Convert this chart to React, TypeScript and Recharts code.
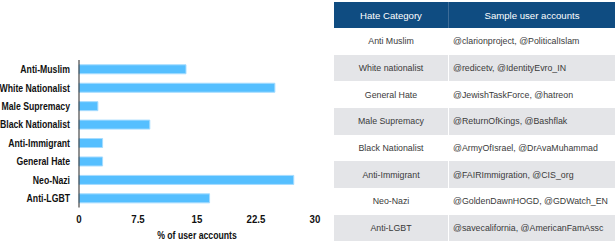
import { Bar, BarChart, Label, XAxis, YAxis } from "recharts";

const categories = [
  "Anti-Muslim",
  "White Nationalist",
  "Male Supremacy",
  "Black Nationalist",
  "Anti-Immigrant",
  "General Hate",
  "Neo-Nazi",
  "Anti-LGBT",
];
const shares = [13.6, 24.9, 2.4, 9.0, 3.0, 3.0, 27.3, 16.6];
const xTicks = [0, 7.5, 15, 22.5, 30];

const tableCategories = [
  "Anti Muslim",
  "White nationalist",
  "General Hate",
  "Male Supremacy",
  "Black Nationalist",
  "Anti-Immigrant",
  "Neo-Nazi",
  "Anti-LGBT",
];
const tableAccounts = [
  "@clarionproject, @PoliticalIslam",
  "@redicetv, @IdentityEvro_IN",
  "@JewishTaskForce, @hatreon",
  "@ReturnOfKings, @Bashflak",
  "@ArmyOfIsrael, @DrAvaMuhammad",
  "@FAIRImmigration, @CIS_org",
  "@GoldenDawnHOGD, @GDWatch_EN",
  "@savecalifornia, @AmericanFamAssc",
];

const data = categories.map((name, i) => ({ name, value: shares[i] }));

const axisFont = {
  fontFamily: "'Liberation Sans', Arial, sans-serif",
  fontWeight: 700,
  fontSize: 11,
  fill: "#111",
};

// no narrow font installed, so squeeze the text horizontally to look condensed
const squeeze = 0.79;

const CategoryTick = ({ x, y, payload }: any) => (
  <text transform={`translate(${x},${y}) scale(${squeeze},1)`} dy="0.355em" textAnchor="end" style={axisFont}>
    {payload.value}
  </text>
);

const ValueTick = ({ x, y, payload }: any) => (
  <text transform={`translate(${x},${y}) scale(0.88,1)`} dy="0.71em" textAnchor="middle" style={axisFont}>
    {payload.value}
  </text>
);

const AxisTitle = ({ viewBox }: any) => {
  const cx = viewBox.x + viewBox.width / 2;
  const by = viewBox.y + viewBox.height - 3;
  return (
    <text transform={`translate(${cx},${by}) scale(${squeeze},1)`} textAnchor="middle" style={axisFont}>
      % of user accounts
    </text>
  );
};

function SampleTable() {
  const cell = {
    fontFamily: "'Liberation Sans', Arial, sans-serif",
    fontSize: 8.8,
    color: "#3a3a3a",
    height: 26.67,
    padding: 0,
    whiteSpace: "nowrap" as const,
  };
  const head = { ...cell, color: "#fff", fontWeight: 400, fontSize: 9.6, height: 26 };
  return (
    <table
      style={{
        position: "absolute",
        left: 334,
        top: 2,
        width: 281,
        borderCollapse: "collapse",
        tableLayout: "fixed",
      }}
    >
      <thead>
        <tr style={{ background: "#0f4c81", height: 26 }}>
          <th style={{ ...head, width: 114, borderRight: "1px solid #3d6c98" }}>Hate Category</th>
          <th style={head}>Sample user accounts</th>
        </tr>
      </thead>
      <tbody>
        {tableCategories.map((cat, i) => (
          <tr key={cat} style={{ background: i % 2 === 1 ? "#e4e5e8" : "#fff" }}>
            <td style={{ ...cell, textAlign: "center", borderRight: "1px solid #fff" }}>{cat}</td>
            <td style={{ ...cell, textAlign: "left", paddingLeft: 4 }}>{tableAccounts[i]}</td>
          </tr>
        ))}
      </tbody>
    </table>
  );
}

export default function App() {
  return (
    <div style={{ position: "absolute", left: 0, top: 0, width: 616, height: 242, background: "#fff" }}>
      <div style={{ position: "absolute", left: 0, top: 0 }}>
        <BarChart
          width={330}
          height={242}
          data={data}
          layout="vertical"
          margin={{ top: 60, right: 15, left: 0, bottom: 0 }}
          barCategoryGap="26%"
        >
          <XAxis
            type="number"
            domain={[0, 30]}
            ticks={xTicks}
            axisLine={false}
            tickLine={false}
            height={34.5}
            tick={<ValueTick />}
          >
            <Label content={<AxisTitle />} position="insideBottom" />
          </XAxis>
          <YAxis
            type="category"
            dataKey="name"
            width={79}
            interval={0}
            axisLine={{ stroke: "#222" }}
            tickLine={false}
            tickMargin={3}
            tick={<CategoryTick />}
          />
          <Bar dataKey="value" fill="#55bfff" stroke="#a6dcff" strokeWidth={1} isAnimationActive={false} />
        </BarChart>
      </div>
      <SampleTable />
    </div>
  );
}
